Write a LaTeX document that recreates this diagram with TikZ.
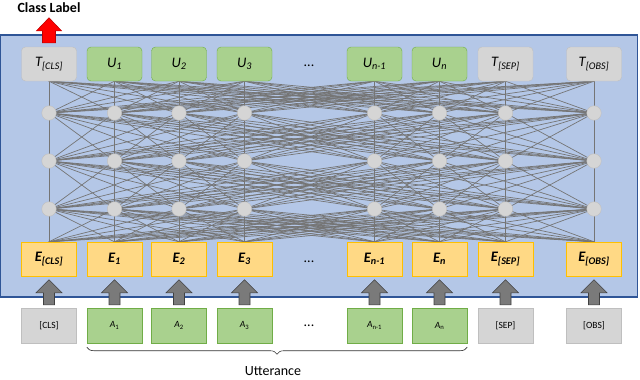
\documentclass[tikz,border=0pt]{standalone}
\usepackage{fontspec}
\setmainfont{Carlito}
\usetikzlibrary{decorations.pathreplacing,calc}
\pgfdeclarelayer{background}
\pgfdeclarelayer{lines}
\pgfsetlayers{background,lines,main}
\definecolor{bluebg}{HTML}{B4C7E7}
\definecolor{blueline}{HTML}{2F5597}
\definecolor{greenfill}{HTML}{A9D18E}
\definecolor{greenline}{HTML}{70AD47}
\definecolor{grayfill}{HTML}{D5D5D5}
\definecolor{grayline}{HTML}{BFBFBF}
\definecolor{yellowfill}{HTML}{FFD985}
\definecolor{yellowline}{HTML}{FFC000}
\definecolor{connline}{HTML}{757575}
\definecolor{arrowfill}{HTML}{7A7A7A}
\definecolor{arrowline}{HTML}{404040}
\definecolor{redfill}{HTML}{FF0000}
\definecolor{redline}{HTML}{C00000}
\tikzset{
  topbox/.style={rounded corners=4pt, minimum width=55pt, minimum height=34pt, inner sep=0pt,
     font=\itshape\fontsize{14.5}{16}\selectfont},
  topgray/.style={topbox, fill=grayfill, draw=grayline},
  topgreen/.style={topbox, fill=greenfill, draw=greenline},
  ebox/.style={minimum width=55pt, minimum height=34pt, inner sep=0pt, fill=yellowfill, draw=yellowline,
     font=\bfseries\itshape\fontsize{14.5}{16}\selectfont},
  inbox/.style={minimum width=55pt, minimum height=35pt, inner sep=0pt, font=\fontsize{9.5}{11}\selectfont},
  ingray/.style={inbox, fill=grayfill, draw=grayline},
  ingreen/.style={inbox, fill=greenfill, draw=greenline},
  hid/.style={circle, minimum size=14.5pt, inner sep=0pt, fill=grayfill, draw=grayline},
  conn/.style={draw=connline, line width=0.7pt},
  blockarrow/.style={fill=arrowfill, draw=arrowline, line width=0.6pt},
  dots/.style={font=\fontsize{14}{16}\selectfont, inner sep=1pt}
}
\begin{document}
\begin{tikzpicture}[x=1pt,y=-1pt]
\useasboundingbox (0,0) rectangle (640,380);
\begin{pgfonlayer}{background}
  \draw[fill=bluebg, draw=blueline, line width=1.2pt] (0.6,35) rectangle (637.5,297);
\end{pgfonlayer}

% top output nodes
\node[topgray]  (t1) at (49,64)    {T\textsubscript{[CLS]}};
\node[topgreen] (t2) at (114.5,64) {U\textsubscript{1}};
\node[topgreen] (t3) at (179,64)   {U\textsubscript{2}};
\node[topgreen] (t4) at (244.5,64) {U\textsubscript{3}};
\node[topgreen] (t5) at (374.5,64) {U\textsubscript{n-1}};
\node[topgreen] (t6) at (439.5,64) {U\textsubscript{n}};
\node[topgray]  (t7) at (505.5,64) {T\textsubscript{[SEP]}};
\node[topgray]  (t8) at (594,64)   {T\textsubscript{[OBS]}};

% hidden units
\foreach \x [count=\i] in {49,114.5,179,244.5,374.5,439.5,505.5,594}{
  \node[hid] (h1-\i) at (\x,113) {};
  \node[hid] (h2-\i) at (\x,161) {};
  \node[hid] (h3-\i) at (\x,209) {};
}

% embeddings
\node[ebox] (e1) at (49,259)    {E\textsubscript{[CLS]}};
\node[ebox] (e2) at (114.5,259) {E\textsubscript{1}};
\node[ebox] (e3) at (179,259)   {E\textsubscript{2}};
\node[ebox] (e4) at (244.5,259) {E\textsubscript{3}};
\node[ebox] (e5) at (374.5,259) {E\textsubscript{n-1}};
\node[ebox] (e6) at (439.5,259) {E\textsubscript{n}};
\node[ebox] (e7) at (505.5,259) {E\textsubscript{[SEP]}};
\node[ebox] (e8) at (594,259)   {E\textsubscript{[OBS]}};

% inputs
\node[ingray]  (a1) at (49,325.5)    {[CLS]};
\node[ingreen] (a2) at (114.5,325.5) {\textit{A}\textsubscript{1}};
\node[ingreen] (a3) at (179,325.5)   {\textit{A}\textsubscript{2}};
\node[ingreen] (a4) at (244.5,325.5) {\textit{A}\textsubscript{3}};
\node[ingreen] (a5) at (374.5,325.5) {\textit{A}\textsubscript{n-1}};
\node[ingreen] (a6) at (439.5,325.5) {\textit{A}\textsubscript{n}};
\node[ingray]  (a7) at (505.5,325.5) {[SEP]};
\node[ingray]  (a8) at (594,325.5)   {[OBS]};

% dots
\node[dots] (d1) at (309,66)  {...};
\node[dots] (d2) at (309,262) {...};
\node[dots] (d3) at (309,326) {...};

% fully connected lines
\begin{pgfonlayer}{lines}
\foreach \i in {1,...,8}{
  \foreach \j in {1,...,8}{
    \draw[conn] (t\i.south) -- (h1-\j.center);
    \draw[conn] (h1-\i.center) -- (h2-\j.center);
    \draw[conn] (h2-\i.center) -- (h3-\j.center);
    \draw[conn] (h3-\i.center) -- (e\j.north);
  }
}
\end{pgfonlayer}

% block arrows from inputs to embeddings
\foreach \i in {1,...,8}{
  \coordinate (ab\i) at ($(a\i.north)+(0,-3)$);
  \draw[blockarrow] ($(ab\i)+(-5.5,0)$) -- ($(ab\i)+(5.5,0)$) -- ($(ab\i)+(5.5,-12)$)
     -- ($(ab\i)+(13,-12)$) -- ($(ab\i)+(0,-25)$) -- ($(ab\i)+(-13,-12)$)
     -- ($(ab\i)+(-5.5,-12)$) -- cycle;
}

% class label arrow
\coordinate (rb) at ($(t1.north)+(0,-4)$);
\draw[fill=redfill, draw=redline, line width=0.6pt]
  ($(rb)+(-6.5,0)$) -- ($(rb)+(6.5,0)$) -- ($(rb)+(6.5,-12)$) -- ($(rb)+(12.5,-12)$)
  -- ($(rb)+(0,-25)$) -- ($(rb)+(-12.5,-12)$) -- ($(rb)+(-6.5,-12)$) -- cycle;
\node[font=\bfseries\fontsize{14}{16}\selectfont, inner sep=0pt] (cl) at (49,8) {Class Label};

% brace
\coordinate (bl) at ($(a2.south west)+(0,4)$);
\coordinate (br) at ($(a6.south east)+(0,4)$);
\draw[decorate, decoration={brace, mirror, amplitude=7pt}, draw=black!80, line width=0.6pt] (bl) -- (br);
\node[font=\fontsize{14}{16}\selectfont, inner sep=0pt] (utt) at (273,371) {Utterance};
\end{tikzpicture}
\end{document}
